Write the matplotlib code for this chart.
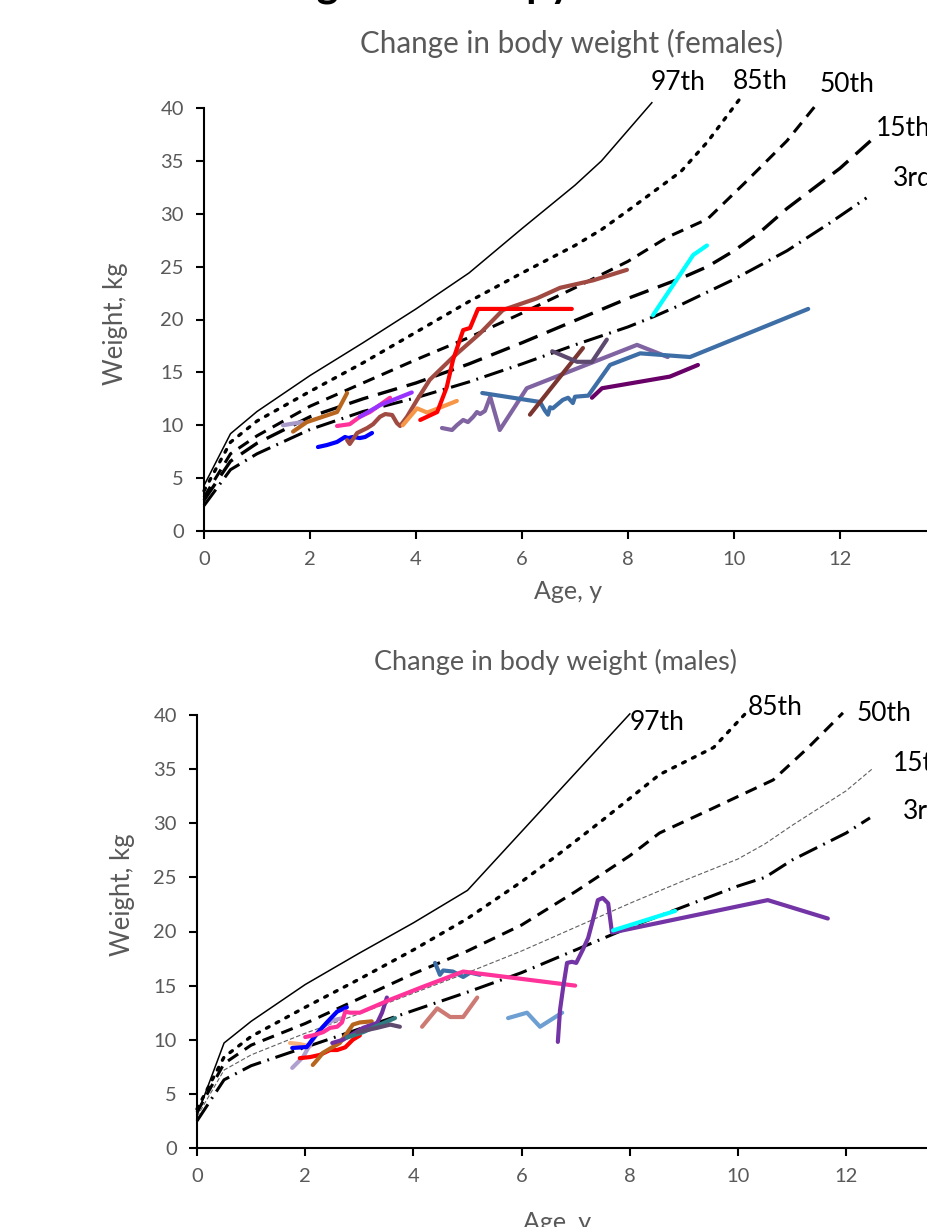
import numpy as np
import matplotlib
matplotlib.use("Agg")
import matplotlib.pyplot as plt

plt.rcParams['font.family'] = ['Lato', 'DejaVu Sans']

GREY = "#595959"

# percentile reference curves, females  (age in years, weight in kg)
f_age_97 = [0, 0.5, 1, 2, 3, 4, 5, 6, 7, 7.5, 8.45]
f_p97 = [4.3, 9.2, 11.3, 14.7, 17.8, 21.0, 24.4, 28.6, 32.7, 35.0, 40.5]
f_age_85 = [0, 0.5, 1, 2, 3, 4, 5, 6, 7, 7.5, 8, 9, 9.5, 10.1]
f_p85 = [3.8, 8.4, 10.4, 13.2, 15.9, 18.8, 21.7, 24.4, 27.0, 28.5, 30.3, 34.0, 36.8, 40.8]
f_age_50 = [0, 0.5, 1, 2, 3, 4, 5, 6, 7, 8, 8.75, 9.5, 10.2, 11, 11.55]
f_p50 = [3.2, 7.3, 9.0, 11.8, 14.0, 16.2, 18.3, 20.6, 23.0, 25.5, 27.8, 29.5, 32.9, 36.9, 40.3]
f_age_15 = [0, 0.5, 1, 2, 3, 4, 5, 6, 7, 8, 9, 9.5, 10, 10.5, 11, 12, 12.6]
f_p15 = [2.9, 6.6, 8.3, 10.8, 12.5, 14.0, 15.8, 17.8, 19.9, 22.0, 23.9, 25.0, 26.5, 28.3, 30.5, 34.3, 37.0]
f_age_3 = [0, 0.5, 1, 2, 3, 4, 5, 6, 7, 8, 8.5, 9, 10, 11, 11.8, 12.5]
f_p3 = [2.4, 5.8, 7.3, 9.6, 11.3, 12.6, 14.1, 15.8, 17.6, 19.3, 20.3, 21.4, 23.8, 26.5, 29.1, 31.5]

# percentile reference curves, males
m_age_97 = [0, 0.5, 1, 2, 3, 4, 5, 8]
m_p97 = [3.0, 9.7, 11.7, 15.1, 18.0, 20.8, 23.8, 40.1]
m_age_85 = [0, 0.5, 1, 2, 3, 4, 5, 6, 6.7, 7.5, 8.55, 9.55, 10.15]
m_p85 = [3.6, 8.4, 10.3, 13.0, 15.6, 18.3, 21.2, 24.6, 27.2, 30.3, 34.5, 37.0, 40.2]
m_age_50 = [0, 0.5, 1, 2, 3, 4, 5, 6, 7, 8, 8.55, 9.5, 10.65, 11.3, 11.94]
m_p50 = [3.3, 7.8, 9.5, 11.5, 13.8, 16.1, 18.2, 20.6, 23.7, 27.0, 29.1, 31.3, 34.0, 37.0, 40.2]
m_age_15 = [0, 0.5, 1, 2, 3, 4, 5, 6, 7, 8, 9, 10, 10.5, 11, 12, 12.5]
m_p15 = [2.9, 7.2, 8.6, 10.6, 12.4, 14.3, 16.2, 18.2, 20.4, 22.6, 24.7, 26.7, 28.1, 29.8, 33.0, 35.1]
m_age_3 = [0, 0.5, 1, 2, 3, 4, 5, 6, 7, 8, 9, 10, 10.5, 11, 12, 12.44]
m_p3 = [2.5, 6.3, 7.6, 9.3, 11.0, 12.7, 14.4, 16.2, 18.3, 20.4, 22.3, 24.2, 25.0, 26.6, 29.1, 30.5]

percentile_names = ["97th", "85th", "50th", "15th", "3rd"]

# individual patients, females
f1_age = [1.49, 1.85]
f1_wt = [10.0, 10.3]
f2_age = [1.68, 1.94, 2.51, 2.60, 2.70]
f2_wt = [9.4, 10.3, 11.25, 12.1, 13.05]
f3_age = [2.15, 2.32, 2.51, 2.66, 2.72, 2.81, 2.94, 3.04, 3.17]
f3_wt = [7.94, 8.13, 8.42, 8.89, 8.79, 8.89, 8.79, 8.89, 9.27]
f4_age = [2.51, 2.75, 2.94, 3.13, 3.51]
f4_wt = [9.93, 10.1, 10.8, 11.25, 12.6]
f5_age = [2.94, 3.32, 3.92]
f5_wt = [10.8, 11.9, 13.1]
f6_age = [2.70, 2.75, 2.89, 3.08, 3.19, 3.32, 3.42, 3.55, 3.64, 3.70, 3.83, 4.02, 4.26,
          4.70, 5.21, 5.64, 6.28, 6.72, 7.34, 7.98]
f6_wt = [8.6, 8.23, 9.27, 9.74, 10.1, 10.8, 11.06, 10.97, 10.2, 9.93, 10.8, 12.4, 14.3,
         16.45, 18.7, 20.9, 22.0, 23.0, 23.7, 24.7]
f7_age = [3.75, 4.02, 4.21, 4.42, 4.77]
f7_wt = [10.0, 11.6, 11.2, 11.6, 12.3]
f8_age = [4.08, 4.40, 4.58, 4.70, 4.89, 5.02, 5.17, 6.94]
f8_wt = [10.5, 11.25, 13.6, 16.2, 19.0, 19.2, 21.0, 21.0]
f9_age = [4.49, 4.68, 4.77, 4.89, 4.98, 5.08, 5.15, 5.21, 5.30, 5.40, 5.58, 6.09, 8.17, 8.75]
f9_wt = [9.74, 9.55, 10.0, 10.5, 10.3, 10.8, 11.25, 11.06, 11.35, 12.7, 9.55, 13.5, 17.6, 16.45]
f10_age = [5.25, 6.34, 6.43, 6.49, 6.53, 6.58, 6.77, 6.87, 6.96, 7.0, 7.25, 7.66, 8.23, 9.17, 11.4]
f10_wt = [13.05, 12.2, 11.4, 11.0, 11.7, 11.6, 12.4, 12.6, 12.1, 12.7, 12.8, 15.7, 16.8, 16.45, 21.0]
f11_age = [6.15, 7.15]
f11_wt = [11.0, 17.3]
f12_age = [6.57, 7.04, 7.32, 7.60]
f12_wt = [17.0, 16.0, 16.0, 18.1]
f13_age = [7.32, 7.51, 8.79, 9.32]
f13_wt = [12.6, 13.5, 14.6, 15.7]
f14_age = [8.47, 9.23, 9.49]
f14_wt = [20.4, 26.1, 27.0]

# individual patients, males
m1_age = [1.76, 2.03, 2.22, 2.40, 2.59, 2.77]
m1_wt = [9.24, 9.33, 10.6, 11.6, 12.6, 13.0]
m2_age = [1.72, 1.90, 2.09]
m2_wt = [9.7, 9.6, 9.4]
m3_age = [1.76, 1.96, 2.14, 2.33, 2.51, 2.70]
m3_wt = [7.4, 8.4, 10.0, 11.2, 11.8, 12.0]
m4_age = [2.14, 2.22, 2.33, 2.51, 2.64, 2.77, 2.88, 3.01, 3.23]
m4_wt = [7.67, 8.13, 8.8, 9.33, 9.7, 10.6, 11.4, 11.6, 11.7]
m5_age = [1.90, 2.09, 2.27, 2.46, 2.59, 2.74, 2.88, 3.01]
m5_wt = [8.3, 8.4, 8.6, 9.05, 9.05, 9.3, 10.0, 10.4]
m6_age = [2.50, 2.70, 3.07, 3.33, 3.42, 3.51]
m6_wt = [9.7, 10.0, 11.1, 11.55, 12.5, 13.9]
m7_age = [2.77, 3.07, 3.38, 3.66]
m7_wt = [10.2, 10.7, 11.4, 12.0]
m8_age = [2.96, 3.33, 3.57, 3.75]
m8_wt = [10.7, 11.1, 11.4, 11.2]
m9_age = [2.0, 2.14, 2.33, 2.46, 2.59, 2.68, 2.74, 2.83, 3.01, 3.57, 4.18, 4.92, 6.99]
m9_wt = [10.25, 10.4, 10.7, 11.1, 11.2, 11.6, 12.6, 12.5, 12.5, 13.7, 14.9, 16.3, 15.0]
m10_age = [4.40, 4.49, 4.55, 4.73, 4.92, 5.05, 5.23]
m10_wt = [17.1, 16.0, 16.4, 16.3, 15.8, 16.2, 16.0]
m11_age = [4.16, 4.44, 4.68, 4.92, 5.18]
m11_wt = [11.2, 12.9, 12.1, 12.1, 13.9]
m12_age = [5.75, 6.10, 6.34, 6.75]
m12_wt = [12.0, 12.5, 11.2, 12.5]
m13_age = [6.67, 6.71, 6.77, 6.84, 6.93, 7.01, 7.13, 7.23, 7.32, 7.41, 7.50, 7.60, 7.67, 10.55, 11.66]
m13_wt = [9.8, 12.75, 14.9, 17.1, 17.2, 17.1, 18.3, 19.4, 21.1, 22.9, 23.1, 22.6, 19.9, 22.9, 21.2]
m14_age = [7.69, 8.84]
m14_wt = [20.1, 21.9]


def draw_panel(ax, curves, patients, label_pos, thin_15th=False):
    styles = [
        dict(color="black", lw=1.1, ls="-"),
        dict(color="black", lw=2.4, dashes=(0.9, 2.4), dash_capstyle="round"),
        dict(color="black", lw=2.2, dashes=(4.0, 2.6)),
        dict(color="black", lw=2.4, dashes=(6.0, 3.0)),
        dict(color="black", lw=2.2, dashes=(6.5, 2.2, 0.6, 2.2)),
    ]
    if thin_15th:
        styles[3] = dict(color="#606060", lw=0.8, dashes=(4.0, 2.0))
    for (age, wt), st in zip(curves, styles):
        ax.plot(age, wt, clip_on=False, zorder=2, **st)

    for age, wt, col in patients:
        ax.plot(age, wt, color=col, lw=3.0, solid_capstyle="round",
                solid_joinstyle="round", zorder=3)

    for name, (lx, ly) in zip(percentile_names, label_pos):
        ax.text(lx, ly, name, fontsize=19, color="black", ha="left", va="center",
                clip_on=False)

    ax.set_xlim(0, 14)
    ax.set_ylim(0, 40)
    ax.set_xticks(np.arange(0, 13, 2))
    ax.set_yticks(np.arange(0, 41, 5))
    for s in ["top", "right"]:
        ax.spines[s].set_visible(False)
    for s in ["left", "bottom"]:
        ax.spines[s].set_linewidth(1.5)
    ax.tick_params(direction="out", length=5.5, width=1.5, colors="black",
                   labelcolor=GREY, labelsize=14.5, pad=9)
    ax.set_xlabel("Age, y", fontsize=18, color=GREY)
    ax.set_ylabel("Weight, kg", fontsize=18.5, color=GREY)


fig = plt.figure(figsize=(9.27, 12.27), dpi=100)

# cut-off heading at the very top of the page
fig.text(572 / 927, 1 + 4 / 1227, "Change on therapy", fontsize=30, fontweight="bold",
         ha="right", va="baseline", color="black")

ax1 = fig.add_axes([204 / 927, 1 - 531 / 1227, 14 * 53 / 927, 423 / 1227])
draw_panel(
    ax1,
    [(f_age_97, f_p97), (f_age_85, f_p85), (f_age_50, f_p50), (f_age_15, f_p15), (f_age_3, f_p3)],
    [(f1_age, f1_wt, "#A79AC9"), (f2_age, f2_wt, "#B8651E"), (f3_age, f3_wt, "#0000FF"),
     (f6_age, f6_wt, "#A04A42"), (f4_age, f4_wt, "#FF3399"), (f5_age, f5_wt, "#9933FF"),
     (f7_age, f7_wt, "#F79646"), (f8_age, f8_wt, "#FF0000"), (f9_age, f9_wt, "#8064A2"),
     (f10_age, f10_wt, "#3E6EA6"), (f11_age, f11_wt, "#7A3530"), (f12_age, f12_wt, "#5E4A6E"),
     (f13_age, f13_wt, "#680068"), (f14_age, f14_wt, "#00FFFF")],
    [(8.42, 42.4), (9.98, 42.5), (11.62, 42.2), (12.68, 38.1), (13.0, 33.3)],
)
ax1.yaxis.set_label_coords(-0.103, 0.49)
ax1.xaxis.set_label_coords(0.49, -0.115)
fig.text(572 / 927, 1 - 43 / 1227, "Change in body weight (females)", fontsize=21.3,
         color=GREY, ha="center", va="center")

ax2 = fig.add_axes([197 / 927, 1 - 1148 / 1227, 14 * 54.1 / 927, 433 / 1227])
draw_panel(
    ax2,
    [(m_age_97, m_p97), (m_age_85, m_p85), (m_age_50, m_p50), (m_age_15, m_p15), (m_age_3, m_p3)],
    [(m2_age, m2_wt, "#F9B27C"), (m3_age, m3_wt, "#AFA0CF"), (m1_age, m1_wt, "#0000FF"),
     (m5_age, m5_wt, "#FF0000"), (m4_age, m4_wt, "#B8651E"), (m6_age, m6_wt, "#7030A0"),
     (m7_age, m7_wt, "#2F7C80"), (m8_age, m8_wt, "#5E4A6E"), (m10_age, m10_wt, "#3C6FA6"),
     (m9_age, m9_wt, "#FF3399"), (m11_age, m11_wt, "#CC7A73"), (m12_age, m12_wt, "#6E9FD2"),
     (m13_age, m13_wt, "#7335A5"), (m14_age, m14_wt, "#00FFFF")],
    [(8.0, 39.3), (10.18, 40.7), (12.2, 40.1), (12.86, 35.5), (13.05, 31.1)],
    thin_15th=True,
)
ax2.yaxis.set_label_coords(-0.082, 0.584)
ax2.xaxis.set_label_coords(0.475, -0.145)
fig.text(555 / 927, 1 - 662 / 1227, "Change in body weight (males)", fontsize=19.5,
         color=GREY, ha="center", va="center")

fig.savefig("out.png", dpi=100)
